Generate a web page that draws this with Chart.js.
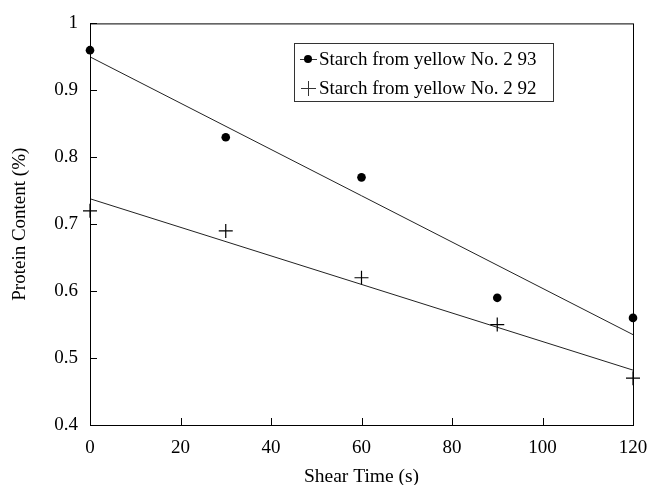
<!DOCTYPE html>
<html>
<head>
<meta charset="utf-8">
<script src="https://cdn.jsdelivr.net/npm/chart.js@4/dist/chart.umd.min.js"></script>
<style>
  html, body { margin: 0; padding: 0; background: #fff; }
  #wrap { width: 648px; height: 485px; }
</style>
</head>
<body>
<div id="wrap"><canvas id="chart"></canvas></div>
<script>
//Shear times (s)
const shearTimes = [0, 30, 60, 90, 120];

//Protein content
const yellow93 = [0.96, 0.83, 0.77, 0.59, 0.56];
const yellow92 = [0.72, 0.69, 0.62, 0.55, 0.47];

//Fitted line ends as drawn
const fitX = [0, 120];
const fit93 = [0.95, 0.535];
const fit92 = [0.738, 0.482];

//Legend names
const seriesNames = ['Starch from yellow No. 2 93', 'Starch from yellow No. 2 92'];

//Tick labels
const xTickLabels = ['0', '20', '40', '60', '80', '100', '120'];
const yTickLabels = ['0.4', '0.5', '0.6', '0.7', '0.8', '0.9', '1'];

const serif = "'Liberation Serif', 'DejaVu Serif', serif";

function toPoints(xs, ys) {
    return xs.map(function(x, i) { return { x: x, y: ys[i] }; });
}

//Frame, inward ticks and the boxed legend
const framePlugin = {
    id: 'frame',
    afterDraw: function(chart) {
        const ctx = chart.ctx;
        const area = chart.chartArea;
        const xs = chart.scales.x;
        const ys = chart.scales.y;
        ctx.save();
        ctx.strokeStyle = '#000';
        ctx.lineWidth = 1;
        ctx.strokeRect(area.left + 0.5, area.top + 0.5, area.right - area.left, area.bottom - area.top);

        ctx.beginPath();
        xs.ticks.forEach(function(t) {
            const px = Math.round(xs.getPixelForValue(t.value)) + 0.5;
            ctx.moveTo(px, area.bottom);
            ctx.lineTo(px, area.bottom - 7);
        });
        ys.ticks.forEach(function(t) {
            const py = Math.round(ys.getPixelForValue(t.value)) + 0.5;
            ctx.moveTo(area.left, py);
            ctx.lineTo(area.left + 7, py);
        });
        ctx.stroke();

        //Legend box
        const bx = 294, by = 43, bw = 259, bh = 58;
        ctx.lineWidth = 1;
        ctx.strokeStyle = '#333';
        ctx.strokeRect(bx + 0.5, by + 0.5, bw, bh);

        ctx.font = '19px ' + serif;
        ctx.fillStyle = '#000';
        ctx.textBaseline = 'middle';
        ctx.textAlign = 'left';

        //Row 1: dot on a short line
        let ry = 59;
        ctx.beginPath();
        ctx.moveTo(300, ry + 0.5);
        ctx.lineTo(317, ry + 0.5);
        ctx.stroke();
        ctx.beginPath();
        ctx.arc(308, ry, 4, 0, Math.PI * 2);
        ctx.fill();
        ctx.fillText(seriesNames[0], 319, ry + 1);

        //Row 2: plus
        ry = 88;
        ctx.beginPath();
        ctx.moveTo(301, ry + 0.5);
        ctx.lineTo(316, ry + 0.5);
        ctx.moveTo(308.5, ry - 7);
        ctx.lineTo(308.5, ry + 8);
        ctx.stroke();
        ctx.fillText(seriesNames[1], 319, ry + 1);
        ctx.restore();
    }
};

new Chart(document.getElementById('chart'), {
    type: 'scatter',
    data: {
        datasets: [
            {
                label: seriesNames[0],
                data: toPoints(shearTimes, yellow93),
                pointStyle: 'circle',
                pointRadius: 4.3,
                backgroundColor: '#000',
                borderColor: '#000',
                borderWidth: 0,
                clip: false
            },
            {
                label: seriesNames[1],
                data: toPoints(shearTimes, yellow92),
                pointStyle: 'cross',
                pointRadius: 7,
                borderColor: '#000',
                borderWidth: 1.2,
                clip: false
            },
            {
                type: 'line',
                data: toPoints(fitX, fit93),
                borderColor: '#222',
                borderWidth: 1,
                pointRadius: 0,
                fill: false
            },
            {
                type: 'line',
                data: toPoints(fitX, fit92),
                borderColor: '#222',
                borderWidth: 1,
                pointRadius: 0,
                fill: false
            }
        ]
    },
    options: {
        responsive: true,
        maintainAspectRatio: false,
        animation: false,
        layout: { padding: { top: 18, right: 15, left: 0, bottom: 0 } },
        plugins: {
            legend: { display: false },
            tooltip: { enabled: false }
        },
        scales: {
            x: {
                type: 'linear',
                min: 0,
                max: 120,
                afterFit: function(scale) {
                    scale.height = 60;
                    scale.paddingLeft = 0;
                    scale.paddingRight = 0;
                },
                ticks: {
                    stepSize: 20,
                    padding: 12,
                    color: '#000',
                    font: { family: serif, size: 19 },
                    callback: function(value, index) { return xTickLabels[index]; }
                },
                grid: { display: false, drawTicks: false },
                border: { display: false },
                title: {
                    display: true,
                    text: 'Shear Time (s)',
                    color: '#000',
                    font: { family: serif, size: 19.5, lineHeight: 0.8 },
                    padding: { top: 8, bottom: 0 }
                }
            },
            y: {
                min: 0.4,
                max: 1,
                afterFit: function(scale) { scale.width = 90; },
                ticks: {
                    stepSize: 0.1,
                    padding: 12,
                    color: '#000',
                    font: { family: serif, size: 19 },
                    callback: function(value, index) { return yTickLabels[index]; }
                },
                grid: { display: false, drawTicks: false },
                border: { display: false },
                title: {
                    display: true,
                    text: 'Protein Content (%)',
                    color: '#000',
                    font: { family: serif, size: 19 },
                    padding: { top: 9, bottom: 4 }
                }
            }
        }
    },
    plugins: [framePlugin]
});
</script>
</body>
</html>
